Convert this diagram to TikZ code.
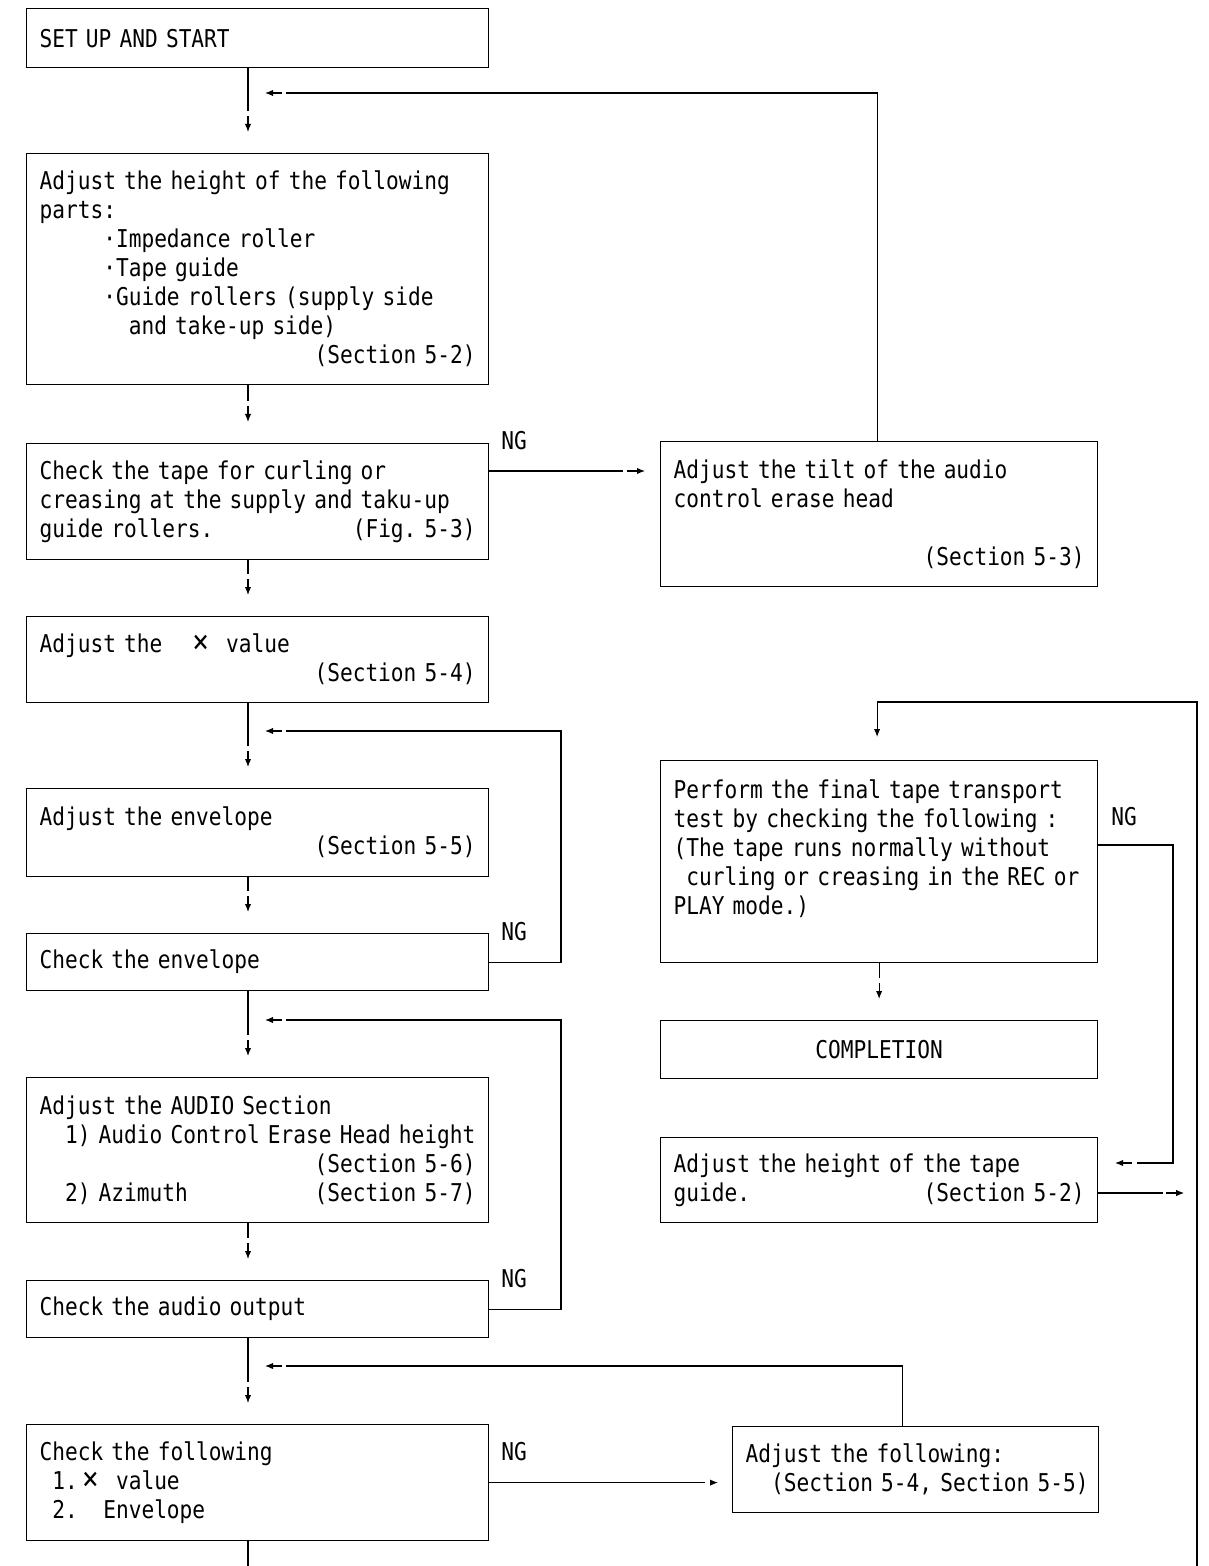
\documentclass[tikz,border=0pt]{standalone}
\usepackage{fontspec}
\usepackage{tikz}
\usetikzlibrary{calc}
\usetikzlibrary{arrows.meta}
\newfontfamily\chartfont{DejaVu Sans Mono}[FakeStretch=0.863]
\newcommand\txtrow[2][l]{\makebox[\linewidth][#1]{#2}}
\newcommand\sk[1]{\foreach \n in {1,...,#1}{\hphantom{x}}}
\newcommand\bigx{\setbox0\hbox{xx}\makebox[\wd0]{\fontsize{16pt}{14.5pt}\selectfont ×}}
\tikzset{
  chart/.style={font=\chartfont\fontsize{12.26pt}{14.5pt}\selectfont\frenchspacing},
  lbox/.style={chart, draw, line width=0.6pt, rectangle, anchor=north west, inner xsep=6.5pt, inner ysep=2pt, minimum width=231pt, text width=218pt, align=left},
  rbox/.style={chart, draw, line width=0.6pt, rectangle, anchor=north west, inner xsep=6.5pt, inner ysep=2pt, minimum width=218.5pt, text width=205.5pt, align=left},
  nglabel/.style={chart, inner sep=0pt},
  flowline/.style={line width=0.6pt},
  flowtip/.style={line width=0.6pt, -{Latex[length=4pt,width=3.2pt]}}
}

\begin{document}
\begin{tikzpicture}[x=0.5pt,y=-0.5pt]
  \useasboundingbox (0,0) rectangle (1208,1566);
  \coordinate (spine) at (248,0);
  \coordinate (loopbot) at (1197,1566);

  \node[lbox, minimum height=29.5pt] (start) at (26,8) {\txtrow{SET UP AND START}};
  \node[lbox, minimum height=115.5pt] (adjheight) at (26,153) {\txtrow{Adjust the height of the following}\\
    \txtrow{parts:}\\
    \txtrow{\sk{5}·Impedance roller}\\
    \txtrow{\sk{5}·Tape guide}\\
    \txtrow{\sk{5}·Guide rollers (supply side}\\
    \txtrow{\sk{7}and take-up side)}\\
    \txtrow[r]{(Section 5-2)}};
  \node[lbox, minimum height=58pt] (chktape) at (26,443) {\txtrow{Check the tape for curling or}\\
    \txtrow{creasing at the supply and taku-up}\\
    \txtrow[s]{guide rollers.\hfill(Fig. 5-3)}};
  \node[rbox, minimum height=72.5pt] (tilt) at (660,441) {\txtrow{Adjust the tilt of the audio}\\
    \txtrow{control erase head}\\
    \txtrow{}\\
    \txtrow[r]{(Section 5-3)}};
  \node[lbox, minimum height=43pt] (xval) at (26,616) {\txtrow{Adjust the\sk{2}\bigx\sk{1}value}\\
    \txtrow[r]{(Section 5-4)}};
  \node[lbox, minimum height=44pt] (adjenv) at (26,788) {\txtrow{Adjust the envelope}\\
    \txtrow[r]{(Section 5-5)}};
  \node[lbox, minimum height=28.5pt] (chkenv) at (26,933) {\txtrow{Check the envelope}};
  \node[lbox, minimum height=72.5pt] (audio) at (26,1077) {\txtrow{Adjust the AUDIO Section}\\
    \txtrow{\sk{2}1) Audio Control Erase Head height}\\
    \txtrow[r]{(Section 5-6)}\\
    \txtrow[s]{\sk{2}2) Azimuth\hfill(Section 5-7)}};
  \node[lbox, minimum height=28.5pt] (chkaudio) at (26,1280) {\txtrow{Check the audio output}};
  \node[lbox, minimum height=58pt] (chkfollow) at (26,1424) {\txtrow{Check the following}\\
    \txtrow{\sk{1}1.\bigx\sk{1}value}\\
    \txtrow{\sk{1}2.\sk{2}Envelope}};
  \node[rbox, minimum width=183pt, text width=170pt, minimum height=43pt] (adjfollow) at (732,1426) {\txtrow{Adjust the following:}\\
    \txtrow{\sk{2}(Section 5-4, Section 5-5)}};
  \node[rbox, minimum height=101pt] (final) at (660,760) {\txtrow{Perform the final tape transport}\\
    \txtrow{test by checking the following :}\\
    \txtrow{(The tape runs normally without}\\
    \txtrow{\sk{1}curling or creasing in the REC or}\\
    \txtrow{PLAY mode.)}\\
    \txtrow{}};
  \node[rbox, minimum height=29pt] (done) at (660,1020) {\txtrow[c]{COMPLETION}};
  \node[rbox, minimum height=42.5pt] (tapeguide) at (660,1137) {\txtrow{Adjust the height of the tape}\\
    \txtrow[s]{guide.\hfill(Section 5-2)}};

  \node[nglabel] (ng1) at ($(chktape.north east)+(25,-2)$) {NG};
  \node[nglabel] (ng2) at ($(chkenv.north east)+(25,-1)$) {NG};
  \node[nglabel] (ng3) at ($(chkaudio.north east)+(25,-1)$) {NG};
  \node[nglabel] (ng4) at ($(chkfollow.north east)+(25,28)$) {NG};
  \node[nglabel] (ng5) at ($(final.north east)+(26,57)$) {NG};

  \foreach \a/\b in {start/adjheight, adjheight/chktape, chktape/xval, xval/adjenv, adjenv/chkenv, chkenv/audio, audio/chkaudio, chkaudio/chkfollow} {
    \draw[flowline] (\a.south -| spine) -- ($(\b.north -| spine)+(0,-42)$);
    \draw[flowtip] ($(\b.north -| spine)+(0,-37)$) -- ($(\b.north -| spine)+(0,-21)$);
  }
  \draw[flowline] (chkfollow.south -| spine) -- (spine |- loopbot);
  \draw[flowline] (final.south) -- ($(done.north)+(0,-42)$);
  \draw[flowtip] ($(done.north)+(0,-37)$) -- ($(done.north)+(0,-21)$);

  \coordinate (fb1) at (286,93);
  \coordinate (fb2) at (286,731);
  \coordinate (fb3) at (286,1020);
  \coordinate (fb4) at (286,1366);
  \draw[flowline] ($(tilt.north)+(-2,0)$) |- (fb1);
  \draw[flowline] (chkenv.east) -| (561,731) -- (fb2);
  \draw[flowline] (chkaudio.east) -| (561,1020) -- (fb3);
  \draw[flowline] ($(adjfollow.north)+(-13,0)$) |- (fb4);
  \foreach \f in {fb1, fb2, fb3, fb4}
    \draw[flowtip] ($(\f)+(-4,0)$) -- ($(\f)+(-21,0)$);

  \coordinate (ngend1) at ($(chktape.north east -| tilt.west)+(0,28)$);
  \draw[flowline] ($(chktape.north east)+(0,28)$) -- ($(ngend1)+(-37,0)$);
  \draw[flowtip] ($(ngend1)+(-33,0)$) -- ($(ngend1)+(-15,0)$);
  \draw[flowline] (chkfollow.east) -- ($(chkfollow.east -| adjfollow.west)+(-27,0)$);
  \draw[flowtip] ($(chkfollow.east -| adjfollow.west)+(-20,0)$) -- ($(chkfollow.east -| adjfollow.west)+(-14,0)$);

  \coordinate (turn5) at (1173,1163);
  \draw[flowline] ($(final.north east)+(0,85)$) -| (turn5) -- ($(turn5)+(-36,0)$);
  \draw[flowtip] ($(turn5)+(-41,0)$) -- ($(turn5)+(-58,0)$);
  \draw[flowline] ($(tapeguide.north east)+(0,56)$) -- ($(tapeguide.north east)+(65,56)$);
  \draw[flowtip] ($(tapeguide.north east)+(68,56)$) -- ($(tapeguide.north east)+(86,56)$);
  \draw[flowtip] (loopbot) |- ($(final.north)+(-2,-58)$) -- ($(final.north)+(-2,-23)$);
\end{tikzpicture}
\end{document}
